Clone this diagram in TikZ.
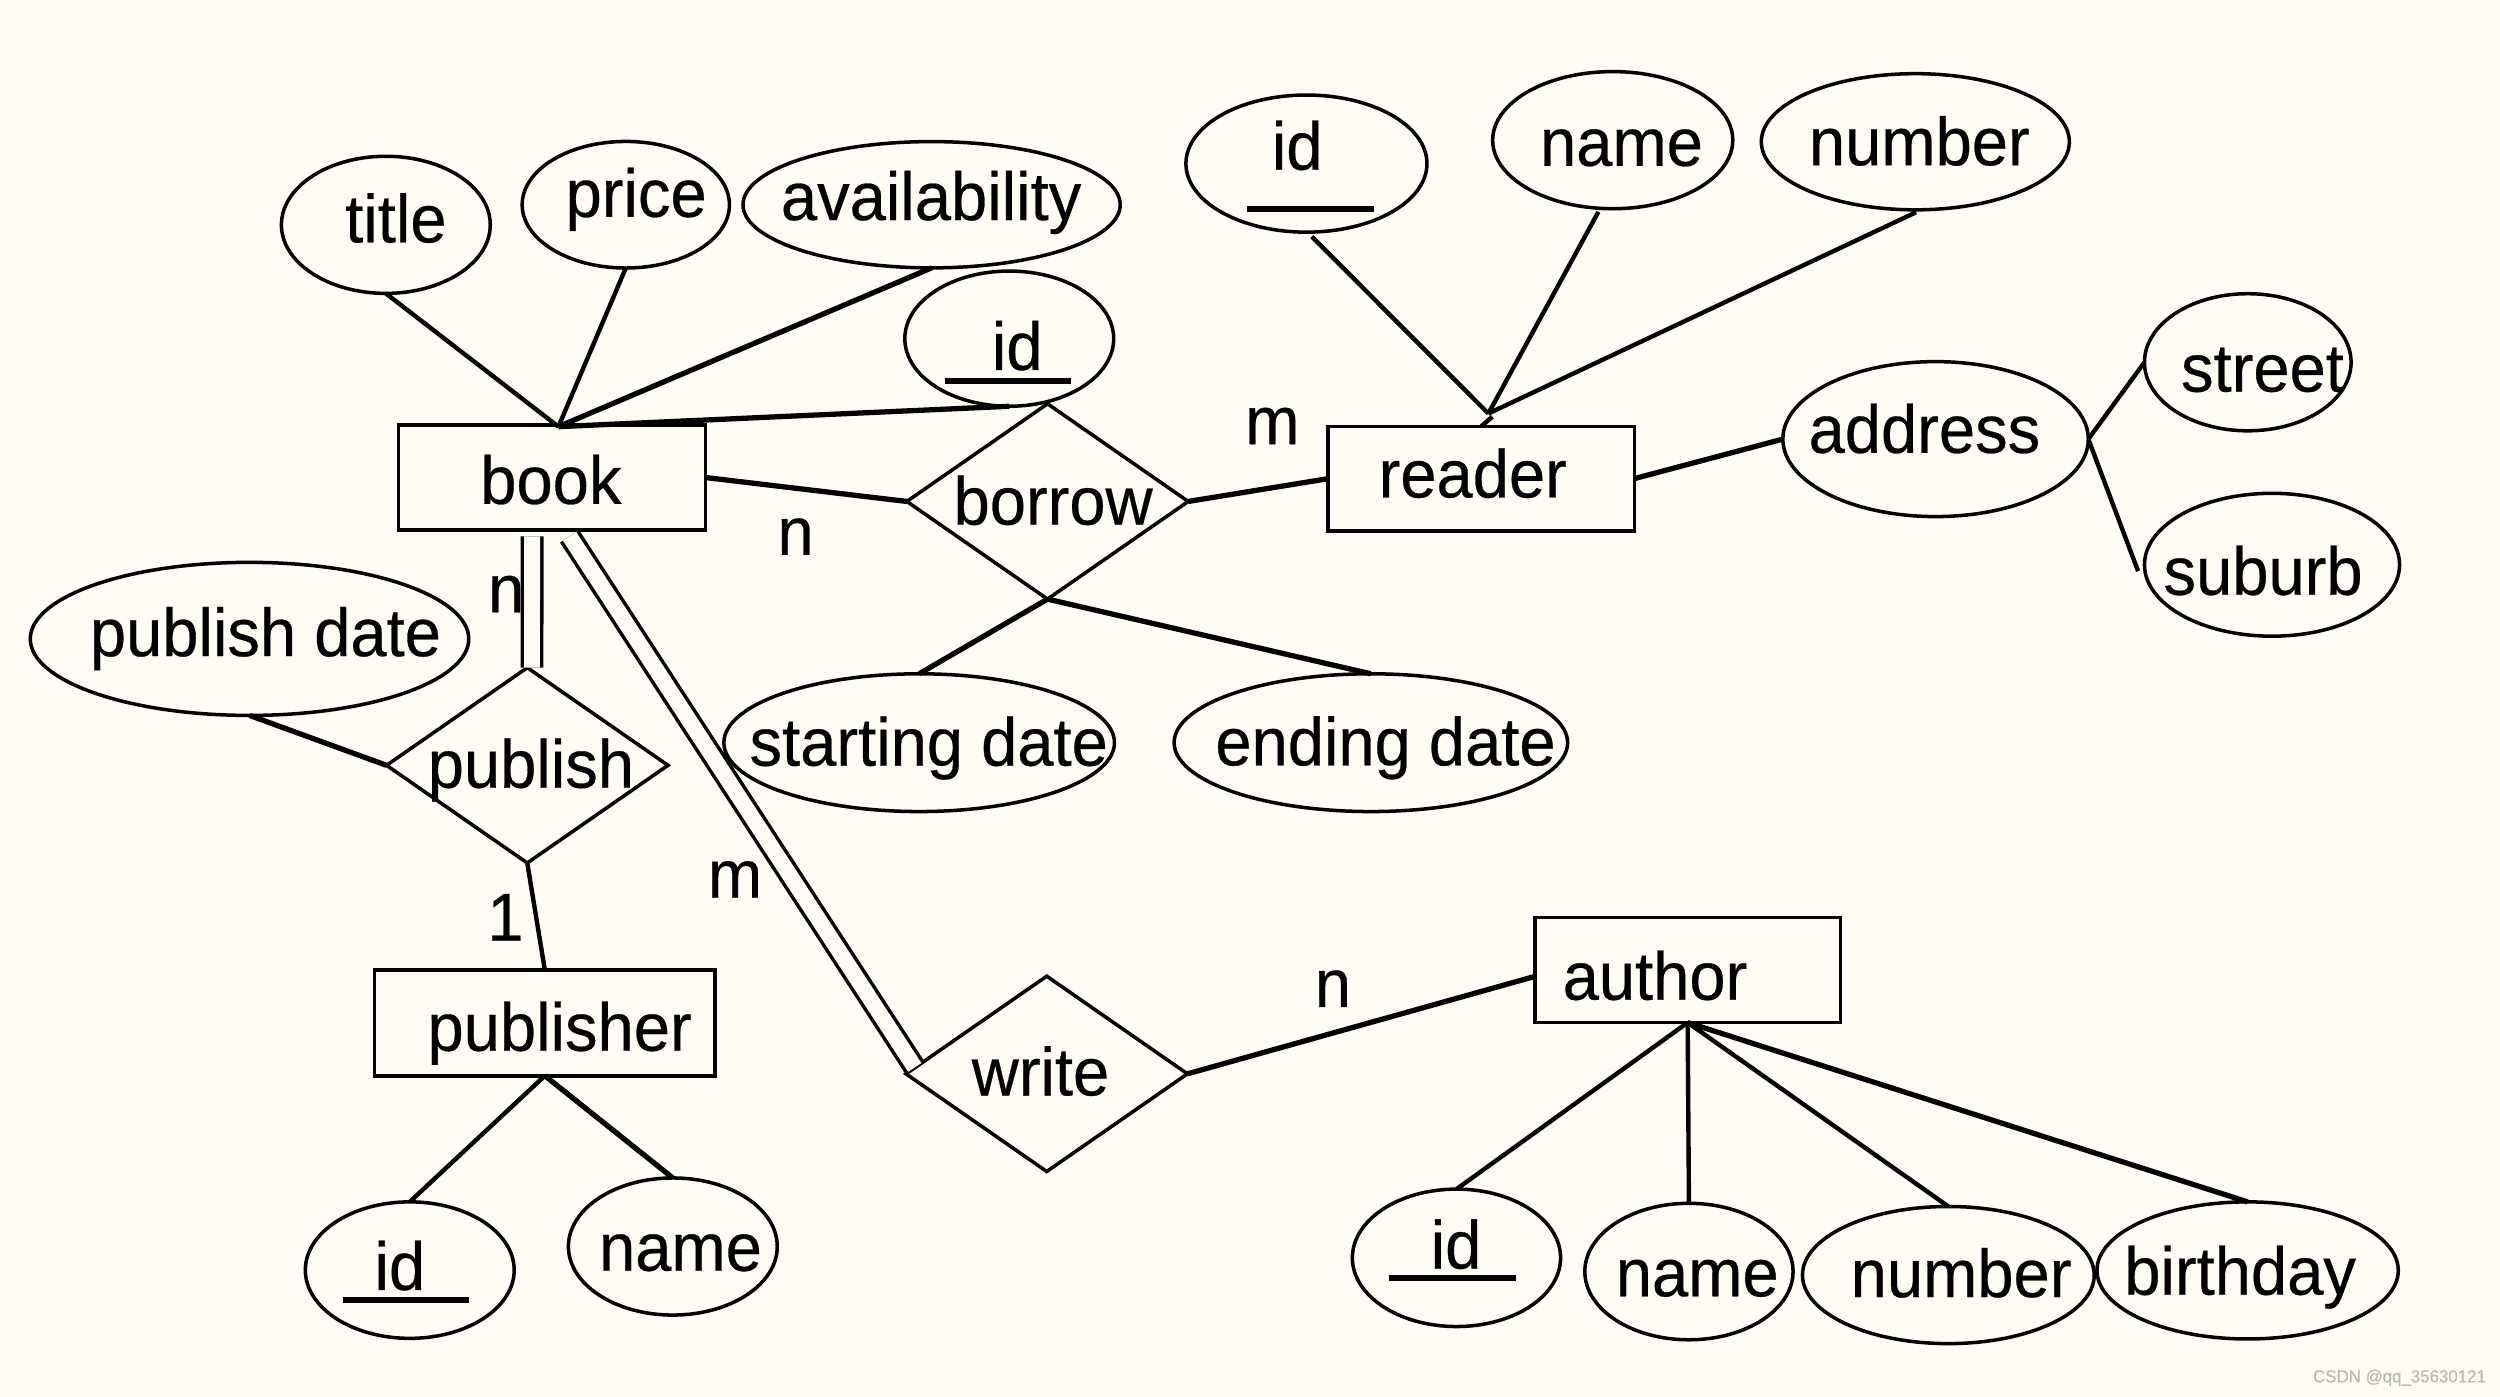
\documentclass[tikz,border=0pt]{standalone}
\usepackage{fontspec}
\setmainfont[FakeStretch=0.96,FakeBold=0.4]{Liberation Sans}
\usetikzlibrary{shapes.geometric,calc}
\definecolor{bgc}{RGB}{254,252,244}
\definecolor{wmc}{RGB}{185,185,185}
\begin{document}
\begin{tikzpicture}[x=0.015944cm,y=-0.015944cm,
  shp/.style={draw, line width=1pt, inner sep=0pt, outer sep=0pt},
  ent/.style 2 args={shp, rectangle, minimum width=#1*0.015944cm, minimum height=#2*0.015944cm},
  att/.style 2 args={shp, ellipse, minimum width=#1*0.031888cm, minimum height=#2*0.031888cm},
  rel/.style={shp, diamond, minimum width=176.5*0.015944cm, minimum height=122.5*0.015944cm},
  txt/.style={inner sep=0pt, anchor=base, font=\fontsize{19.3}{22}\selectfont},
  ln/.style={line width=1.25pt},
  thk/.style={line width=1.5pt},
  dbl/.style={line width=1pt, double=bgc, double distance=4.5pt},
  ul/.style={line width=1.8pt}]
\fill[bgc] (0,0) rectangle (1568,876);
\useasboundingbox (0,0) rectangle (1568,876);
% entities
\node[ent={192.5}{65.8}] (book) at (346.25,299.5) {};
\node[ent={192}{65.7}] (reader) at (929,300.2) {};
\node[ent={213.5}{66.2}] (publisher) at (341.75,641.6) {};
\node[ent={191.8}{65.9}] (author) at (1058.5,608.4) {};
% relationships
\node[rel] (borrow) at (657,314.5) {};
\node[rel] (publish) at (330.7,480) {};
\node[rel] (write) at (656.5,673.5) {};
% attributes
\node[att={65.5}{43}] (title) at (242,141) {};
\node[att={65}{39.7}] (price) at (392.5,128.4) {};
\node[att={118.3}{39.6}] (avail) at (584.3,128.4) {};
\node[att={65.5}{42.4}] (bid) at (633,212.4) {};
\node[att={75.6}{43}] (rid) at (819.4,102.6) {};
\node[att={75.3}{43}] (rname) at (1011.5,87.9) {};
\node[att={96.6}{42.7}] (rnum) at (1201.3,88.9) {};
\node[att={95.8}{48.6}] (addr) at (1214,275.4) {};
\node[att={64.8}{43}] (street) at (1409.8,227.2) {};
\node[att={80}{44.8}] (suburb) at (1425,354.2) {};
\node[att={137.5}{48}] (pdate) at (156.5,400.7) {};
\node[att={122.5}{43.2}] (sdate) at (576.5,465.8) {};
\node[att={123.4}{43.2}] (edate) at (859.8,465.8) {};
\node[att={65.5}{42.8}] (pid) at (257,796.6) {};
\node[att={65.5}{43}] (pname) at (422,781.8) {};
\node[att={65.3}{43.1}] (aid) at (913.5,788.9) {};
\node[att={65.3}{42.8}] (aname) at (1059.3,797.5) {};
\node[att={91.5}{43}] (anum) at (1222,799.7) {};
\node[att={94.5}{43}] (bday) at (1409.7,796.8) {};
% texts
\node[txt] (t-book) at (345.5,316) {book};
\node[txt] (t-reader) at (923.7,312) {reader};
\node[txt] (t-publisher) at (351,659) {publisher};
\node[txt] (t-author) at (1038,627) {author};
\node[txt] (t-borrow) at (660.5,329) {borrow};
\node[txt] (t-publish) at (333,494) {publish};
\node[txt] (t-write) at (652.6,687) {write};
\node[txt] (t-title) at (248.3,152) {title};
\node[txt] (t-price) at (399,136) {price};
\node[txt] (t-avail) at (584,138) {availability};
\node[txt] (t-bid) at (638,232) {id};
\node[txt] (t-rid) at (813.6,106.4) {id};
\node[txt] (t-rname) at (1017,104) {name};
\node[txt] (t-rnum) at (1203.8,103.6) {number};
\node[txt] (t-addr) at (1207,284) {address};
\node[txt] (t-street) at (1419,245.6) {street};
\node[txt] (t-suburb) at (1419.4,373) {suburb};
\node[txt] (t-pdate) at (166.5,411.5) {publish date};
\node[txt] (t-sdate) at (582.5,480.2) {starting date};
\node[txt] (t-edate) at (869,480) {ending date};
\node[txt] (t-pid) at (250.8,809) {id};
\node[txt] (t-pname) at (426.8,797) {name};
\node[txt] (t-aid) at (913.2,795.6) {id};
\node[txt] (t-aname) at (1064.5,813) {name};
\node[txt] (t-anum) at (1230,813.5) {number};
\node[txt] (t-bday) at (1405,812) {birthday};
% multiplicities
\node[txt] (m-rb) at (798,278.6) {m};
\node[txt] (n-bb) at (499,348) {n};
\node[txt] (n-bp) at (317.5,384) {n};
\node[txt] (one-pp) at (317,590) {1};
\node[txt] (m-bw) at (461,563) {m};
\node[txt] (n-wa) at (836,631.5) {n};
% underlines of keys
\draw[ul] (593,238.9) -- (672,238.9);
\draw[ul] (782,131) -- (862,131);
\draw[ul] (215,815.5) -- (294,815.5);
\draw[ul] (871,801.6) -- (951,801.6);
% connectors: book
\coordinate (bktop) at ($(book.north)+(4,1)$);
\draw[ln] (title.south) -- (bktop);
\draw[ln] (price.south) -- (bktop);
\draw[thk] (avail.south) -- (bktop);
\draw[thk] (bid.south) -- (bktop);
\draw[thk] (book.east) -- (borrow.west);
\draw[thk] (borrow.east) -- (reader.west);
\draw[thk] (borrow.south) -- (sdate.north);
\draw[thk] (borrow.south) -- (edate.north);
\draw[dbl] ($(book.south)+(-12.5,4)$) -- ($(publish.north)+(3,0)$);
\draw[dbl] ($(book.south)+(11,4)$) -- ($(write.west)+(5.5,-4)$);
% reader
\coordinate (rc) at ($(reader.north)+(4.5,-8)$);
\draw[ln] ($(rid.south)+(3.4,2.8)$) -- (rc);
\draw[ln] ($(rname.south)+(-9,2)$) -- (rc);
\draw[ln] ($(rnum.south)+(0.5,1.5)$) -- (rc);
\draw[ln] (reader.north) -- ($(reader.north)+(7,-6)$);
\draw[thk] (reader.east) -- (addr.west);
\draw[ln] (addr.east) -- (street.west);
\draw[ln] (addr.east) -- ($(suburb.west)+(-4,4)$);
% publish / publisher
\draw[thk] (pdate.south) -- (publish.west);
\draw[ln] (publish.south) -- (publisher.north);
\draw[ln] (publisher.south) -- (pid.north);
\draw[thk] (publisher.south) -- (pname.north);
% write / author
\draw[thk] (write.east) -- ($(author.west)+(0,4)$);
\draw[ln] (author.south) -- (aid.north);
\draw[ln] (author.south) -- (aname.north);
\draw[ln] (author.south) -- (anum.north);
\draw[thk] (author.south) -- (bday.north);
% watermark
\node[inner sep=0pt, anchor=base, text=wmc, font=\fontsize{5}{6}\selectfont] (wm) at (1505,867) {CSDN @qq\_35630121};
\end{tikzpicture}
\end{document}
